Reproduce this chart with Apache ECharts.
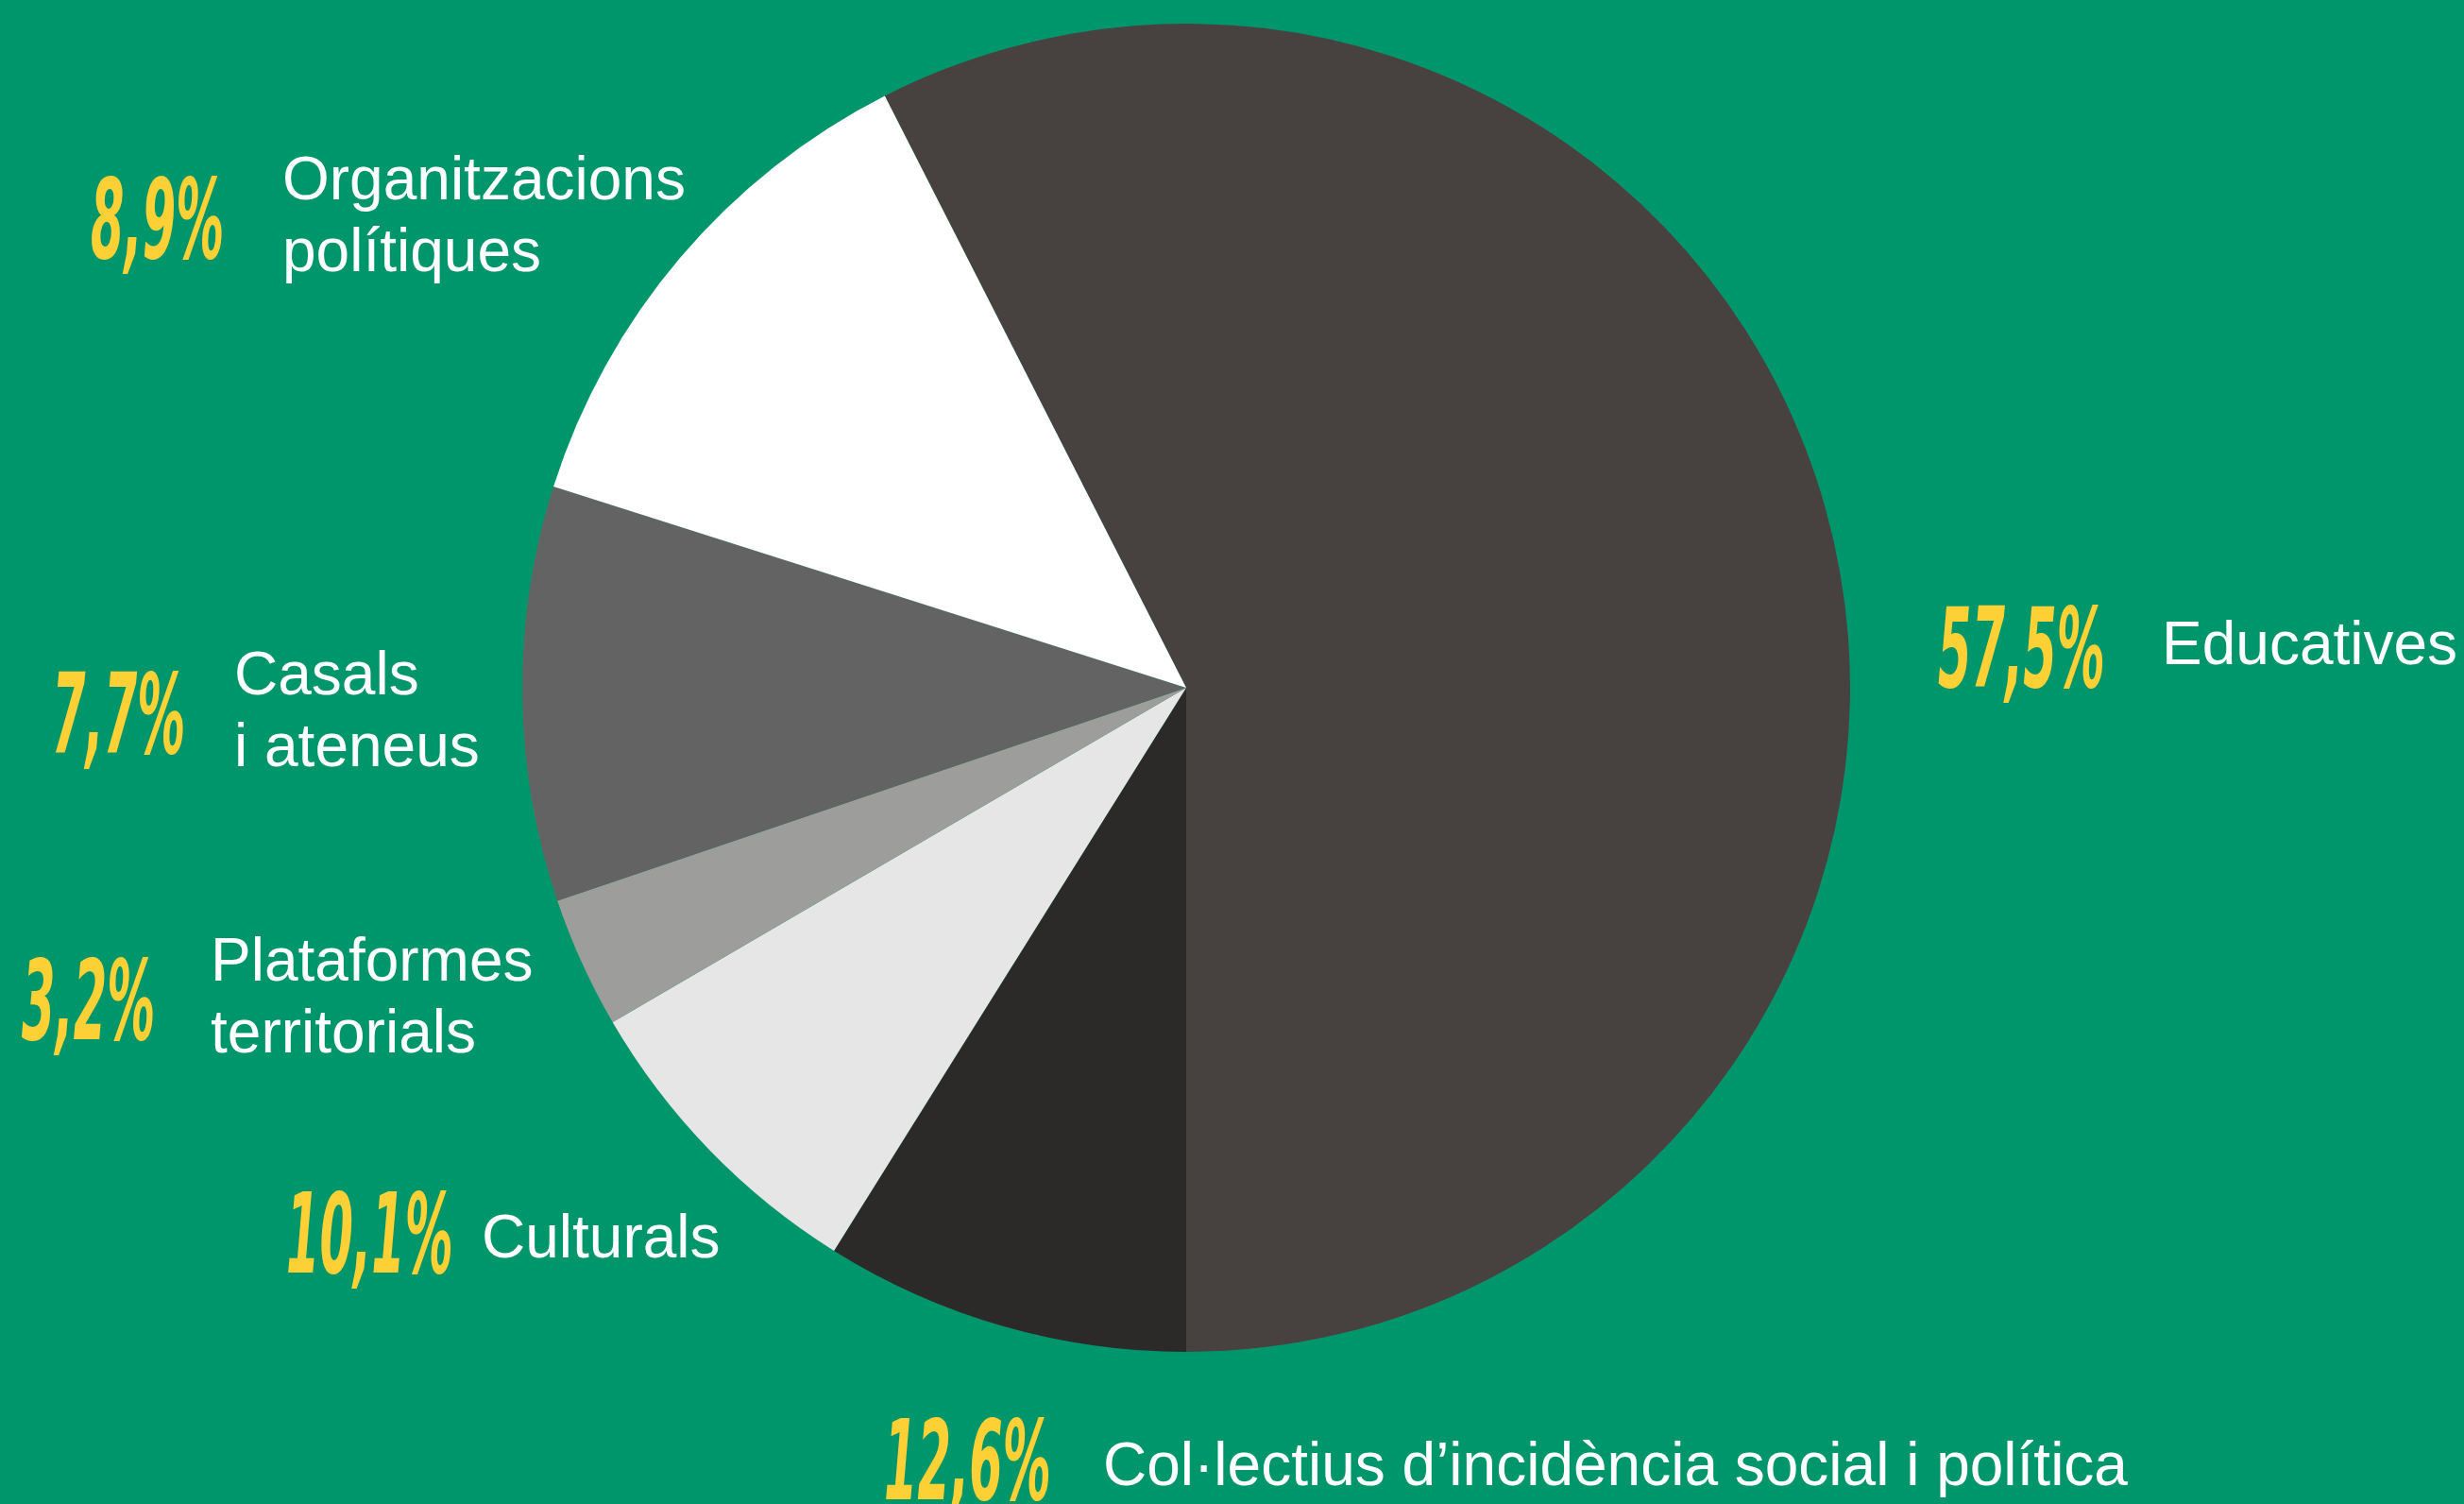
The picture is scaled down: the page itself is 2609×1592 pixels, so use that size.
<!DOCTYPE html>
<html>
<head>
<meta charset="utf-8">
<script src="https://cdn.jsdelivr.net/npm/echarts@6/dist/echarts.min.js"></script>
<style>
html,body{margin:0;padding:0;background:#00966b;}
#chart{width:2609px;height:1592px;}
</style>
</head>
<body>
<div id="chart"></div>
<script>
// ---- data (slices in clockwise order, starting with the large one) ----
const categories = [
  'Educatives',
  'Organitzacions\npolítiques',
  'Casals\ni ateneus',
  'Plataformes\nterritorials',
  'Culturals',
  'Col·lectius d’incidència social i política'
];
const values = [57.5, 8.9, 7.7, 3.2, 10.1, 12.6];
const sliceColors = ['#47423f', '#2c2a29', '#e6e6e6', '#9d9d9c', '#636363', '#ffffff'];

// ---- label layout (positions only) ----
// [percent left x, percent centre y, name left x, first name baseline y]
const labelLayout = [
  [2052, 683, 2289, 703],
  [96, 229, 299, 211],
  [55, 753, 248, 735],
  [23, 1056, 223, 1038],
  [303, 1303, 510, 1331],
  [936, 1543, 1168, 1572]
];

const PCT_FONT = "italic bold 118px 'DejaVu Sans Condensed', 'DejaVu Sans'";
const PCT_SCALE = 0.48;
const PCT_DY = 13;
const NAME_FONT = "64px 'Liberation Sans', Arial, sans-serif";
const NAME_DY = 14;
const LINE_GAP = 76;

function fmtPct(v) { return v.toFixed(1).replace('.', ',') + '%'; }

const graphics = [];
categories.forEach(function (name, i) {
  const L = labelLayout[i];
  graphics.push({
    type: 'text',
    x: L[0], y: L[1] + PCT_DY,
    scaleX: PCT_SCALE,
    silent: true,
    style: {
      x: 0, y: 0,
      text: fmtPct(values[i]),
      font: PCT_FONT,
      fill: '#fdd035',
      textAlign: 'left',
      textVerticalAlign: 'middle'
    }
  });
  name.split('\n').forEach(function (line, k) {
    graphics.push({
      type: 'text',
      x: L[2], y: L[3] + NAME_DY + k * LINE_GAP,
      silent: true,
      style: {
        x: 0, y: 0,
        text: line,
        font: NAME_FONT,
        fill: '#ffffff',
        textAlign: 'left',
        textVerticalAlign: 'bottom'
      }
    });
  });
});

const chart = echarts.init(document.getElementById('chart'), null, {renderer: 'canvas'});
chart.setOption({
  backgroundColor: '#00966b',
  animation: false,
  series: [{
    type: 'pie',
    center: [1256, 728],
    radius: 703,
    startAngle: 117,
    clockwise: true,
    silent: true,
    label: {show: false},
    labelLine: {show: false},
    itemStyle: {borderWidth: 0},
    emphasis: {disabled: true},
    data: categories.map(function (c, i) {
      return {name: c, value: values[i], itemStyle: {color: sliceColors[i]}};
    })
  }],
  graphic: graphics
});
</script>
</body>
</html>
